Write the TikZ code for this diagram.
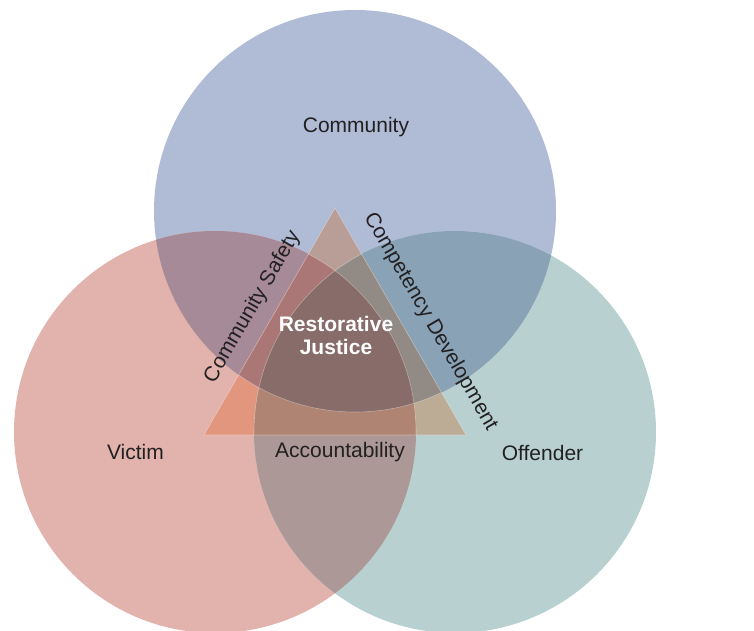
\documentclass[tikz,border=0pt]{standalone}
\usepackage{fontspec}
\setmainfont{Liberation Sans}
\definecolor{cB}{RGB}{176,187,214}
\definecolor{cR}{RGB}{225,179,172}
\definecolor{cT}{RGB}{185,208,208}
\definecolor{cBR}{RGB}{166,138,152}
\definecolor{cBT}{RGB}{138,162,182}
\definecolor{cRT}{RGB}{172,152,150}
\definecolor{cBRT}{RGB}{135,108,105}
\definecolor{tB}{RGB}{185,158,152}
\definecolor{tR}{RGB}{226,150,126}
\definecolor{tT}{RGB}{188,172,150}
\definecolor{tBR}{RGB}{170,119,118}
\definecolor{tBT}{RGB}{145,138,133}
\definecolor{tRT}{RGB}{175,132,114}
\definecolor{txt}{RGB}{34,32,33}
\def\vennB{(355,211) circle (201)}
\def\vennR{(215,432) circle (201)}
\def\vennT{(455,432) circle (201)}
\def\vennTri{(335,208) -- (204,435) -- (466,435) -- cycle}
\begin{document}
\begin{tikzpicture}[x=1pt,y=-1pt,
  lbl/.style={text=txt, font=\fontsize{21}{25}\selectfont, inner sep=0pt},
  edge/.style={draw=white, draw opacity=0.35, line width=0.6pt}]
\useasboundingbox (0,0) rectangle (754,631);
% single circles
\fill[cB] \vennB;
\fill[cR] \vennR;
\fill[cT] \vennT;
% pairwise overlaps
\begin{scope}\clip \vennB; \fill[cBR] \vennR; \end{scope}
\begin{scope}\clip \vennB; \fill[cBT] \vennT; \end{scope}
\begin{scope}\clip \vennR; \fill[cRT] \vennT; \end{scope}
% triangle regions
\begin{scope}
  \clip \vennTri;
  \fill[tB] \vennB;
  \fill[tR] \vennR;
  \fill[tT] \vennT;
  \begin{scope}\clip \vennB; \fill[tBR] \vennR; \end{scope}
  \begin{scope}\clip \vennB; \fill[tBT] \vennT; \end{scope}
  \begin{scope}\clip \vennR; \fill[tRT] \vennT; \end{scope}
  \begin{scope}\clip \vennB; \clip \vennR; \fill[cBRT] \vennT; \end{scope}
  \draw[edge] \vennB;
  \draw[edge] \vennR;
  \draw[edge] \vennT;
\end{scope}
\draw[edge] \vennTri;
% labels
\node[lbl] (community) at (356,127) {Community};
\node[lbl] (victim) at (135.5,452) {Victim};
\node[lbl] (offender) at (542.5,452.5) {Offender};
\node[lbl] (account) at (340,452.5) {Accountability};
\node[lbl, rotate=60] (safety) at (252.5,307) {Community Safety};
\node[lbl, rotate=-60] (competency) at (430.5,321.5) {Competency Development};
\node[lbl, text=white, font=\fontsize{21}{23}\selectfont\bfseries, align=center] (rj) at (336,335) {Restorative\\Justice};
\end{tikzpicture}
\end{document}
